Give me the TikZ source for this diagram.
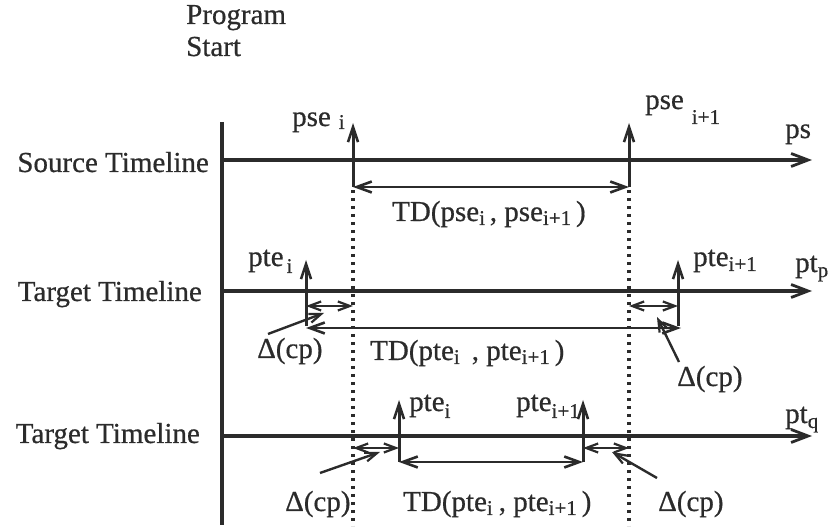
\documentclass[tikz,border=0pt]{standalone}
\usepackage{fontspec}
\setmainfont{Liberation Serif}[FakeBold=0.6]
\usetikzlibrary{arrows.meta}
\definecolor{ink}{HTML}{2B2B2B}
% lowered, smaller index text
\newcommand\lsub[2][4pt]{\raisebox{-#1}{\fontsize{21}{23}\selectfont #2}}

\begin{document}
\begin{tikzpicture}[x=1pt,y=-1pt,
  every node/.style={font=\fontsize{29}{33}\selectfont, inner sep=0pt, text=ink},
  lbl/.style={anchor=base west},
  axisline/.style={line width=3.2pt, draw=ink},
  timeline/.style={line width=3.2pt, draw=ink, -{Straight Barb[length=17pt,width=13pt,line width=2.8pt]}},
  tickarrow/.style={line width=3pt, draw=ink, -{Straight Barb[length=15pt,width=10pt,line width=2.6pt]}},
  spanarrow/.style={line width=2.8pt, draw=ink, {Straight Barb[length=15pt,width=11pt,line width=2.6pt]}-{Straight Barb[length=15pt,width=11pt,line width=2.6pt]}},
  deltaarrow/.style={line width=2.4pt, draw=ink, {Straight Barb[length=12pt,width=9pt,line width=2.2pt]}-{Straight Barb[length=12pt,width=9pt,line width=2.2pt]}},
  pointer/.style={line width=2.4pt, draw=ink, -{Straight Barb[length=12pt,width=9pt,line width=2.2pt]}},
  guide/.style={line width=3.2pt, draw=ink, dash pattern=on 3pt off 5pt}
]
\useasboundingbox (0,0) rectangle (831,529);

% ---------- program start axis ----------
\node[lbl] (prog) at (186,24) {Program};
\node[lbl] (start) at (186,56) {Start};
\coordinate (axtop) at (222,122);
\coordinate (axbot) at (222,525);
\draw[axisline] (axtop) -- (axbot);

% ---------- source timeline ----------
\node[anchor=base east] (srcname) at (209,172) {Source Timeline};
\coordinate (s0) at (222,160);
\coordinate (s1) at (812,160);
\draw[timeline] (s0) -- (s1);
\node[lbl] (ps) at (785,138) {ps};

\coordinate (ea) at (353,187);  \coordinate (eat) at (353,123);
\coordinate (eb) at (629,187);  \coordinate (ebt) at (629,123);
\draw[tickarrow] (ea) -- (eat);
\draw[tickarrow] (eb) -- (ebt);
\node[lbl] (psei) at (292,126) {pse\hspace{8pt}\lsub[3pt]{i}};
\node[lbl] (psej) at (645,109) {pse\hspace{8pt}\lsub[15pt]{i+1}};
\draw[spanarrow] (ea) -- (eb);
\node[lbl] (tdsrc) at (392,221) {TD(pse\lsub{i}\,, pse\lsub{i+1}\,)};

% dotted guides down from the source events
\coordinate (ga) at (353,190);  \coordinate (gab) at (353,526);
\coordinate (gb) at (629,190);  \coordinate (gbb) at (629,526);
\draw[guide] (ga) -- (gab);
\draw[guide] (gb) -- (gbb);

% ---------- target timeline p ----------
\node[anchor=base east] (tgtp) at (202,301) {Target Timeline};
\coordinate (p0) at (222,291);
\coordinate (p1) at (812,291);
\draw[timeline] (p0) -- (p1);
\node[lbl] (ptp) at (795,272) {pt\lsub[5pt]{p}};

\coordinate (pa) at (306,326);  \coordinate (pat) at (306,260);
\coordinate (pb) at (678,326);  \coordinate (pbt) at (678,260);
\draw[tickarrow] (pa) -- (pat);
\draw[tickarrow] (pb) -- (pbt);
\node[lbl] (ptei) at (248,266) {pte\hspace{3pt}\lsub[7pt]{i}};
\node[lbl] (ptej) at (693,266) {pte\lsub[5pt]{i+1}};

\coordinate (da1) at (306,306);  \coordinate (da2) at (353,306);
\coordinate (db1) at (629,306);  \coordinate (db2) at (678,306);
\draw[deltaarrow] (da1) -- (da2);
\draw[deltaarrow] (db1) -- (db2);

\coordinate (ta) at (306,328);  \coordinate (tb) at (681,328);
\draw[spanarrow] (ta) -- (tb);
\node[lbl] (tdp) at (370,360) {TD(pte\lsub{i}\hspace{12pt}, pte\lsub{i+1}\,)};

\node[lbl] (cpa) at (257,358) {Δ(cp)};
\node[lbl] (cpb) at (677,386) {Δ(cp)};
\coordinate (qa0) at (268,334);  \coordinate (qa1) at (324,313);
\coordinate (qb0) at (679,362);  \coordinate (qb1) at (657,317);
\draw[pointer] (qa0) -- (qa1);
\draw[pointer] (qb0) -- (qb1);

% ---------- target timeline q ----------
\node[anchor=base east] (tgtq) at (200,443) {Target Timeline};
\coordinate (q0) at (222,436);
\coordinate (q1) at (812,436);
\draw[timeline] (q0) -- (q1);
\node[lbl] (ptq) at (785,423) {pt\lsub[5pt]{q}};

\coordinate (ra) at (399,462);  \coordinate (rat) at (399,400);
\coordinate (rb) at (583,462);  \coordinate (rbt) at (583,400);
\draw[tickarrow] (ra) -- (rat);
\draw[tickarrow] (rb) -- (rbt);
\node[lbl] (qtei) at (409,411) {pte\lsub[7pt]{i}};
\node[anchor=base east] (qtej) at (580,411) {pte\lsub[7pt]{i+1}};

\coordinate (ea1) at (353,448);  \coordinate (ea2) at (399,448);
\coordinate (eb1) at (583,448);  \coordinate (eb2) at (629,448);
\draw[deltaarrow] (ea1) -- (ea2);
\draw[deltaarrow] (eb1) -- (eb2);

\draw[spanarrow] (ra) -- (rb);
\node[lbl] (tdq) at (403,511) {TD(pte\lsub{i}\hspace{6pt}, pte\lsub{i+1}\,)};

\node[lbl] (cpc) at (285,511) {Δ(cp)};
\node[lbl] (cpd) at (658,511) {Δ(cp)};
\coordinate (wa0) at (320,473);  \coordinate (wa1) at (380,452);
\coordinate (wb0) at (657,478);  \coordinate (wb1) at (612,452);
\draw[pointer] (wa0) -- (wa1);
\draw[pointer] (wb0) -- (wb1);
\end{tikzpicture}
\end{document}
